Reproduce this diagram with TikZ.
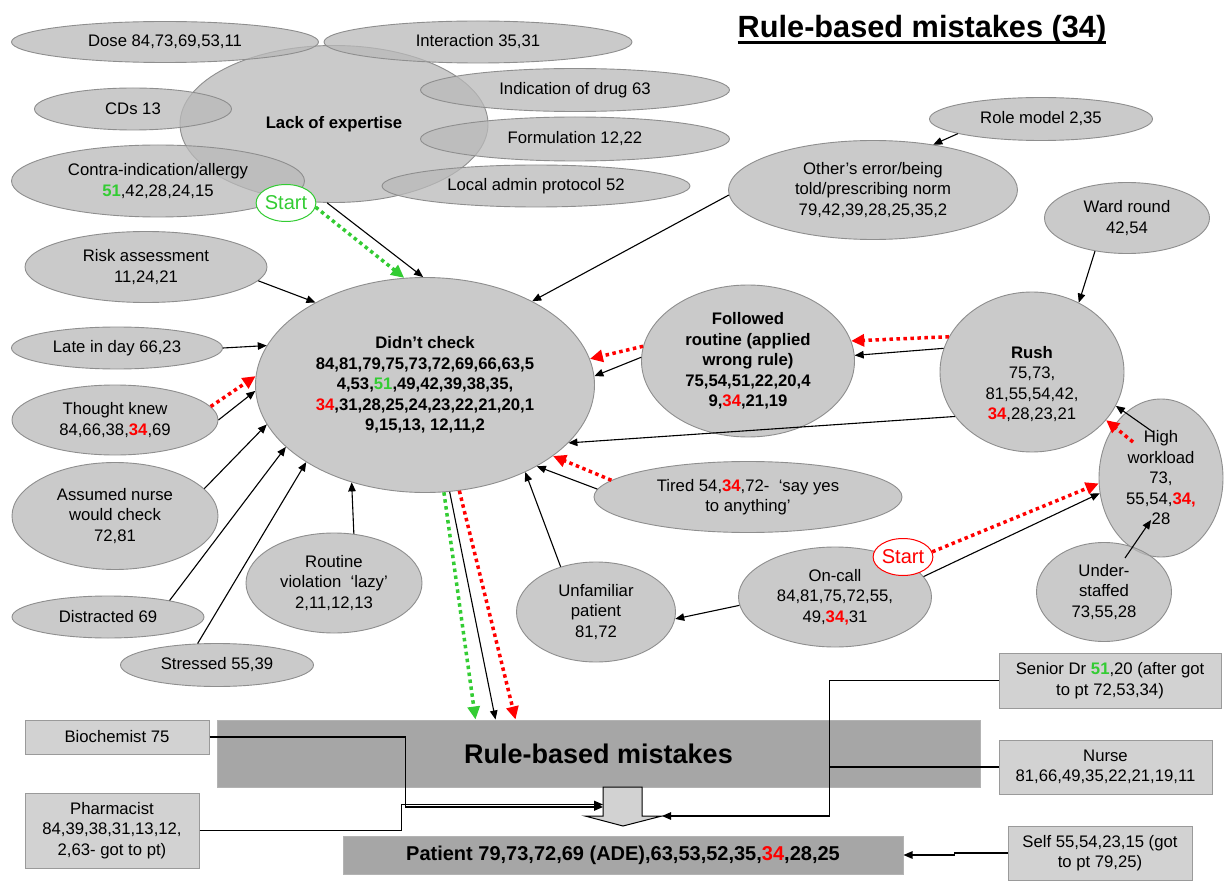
\documentclass[tikz,border=0pt]{standalone}
\usepackage{fontspec}
\setmainfont{Liberation Sans}
\usetikzlibrary{arrows.meta, shapes.geometric, calc}

\definecolor{ellfill}{HTML}{B9B9B9}
\definecolor{ellline}{HTML}{8E8E8E}
\definecolor{boxfill}{HTML}{D2D2D2}
\definecolor{boxline}{HTML}{9A9A9A}
\definecolor{darkfill}{HTML}{A6A6A6}
\definecolor{startgreen}{HTML}{33CC33}

\newcommand{\redno}[1]{\textcolor{red}{\bfseries #1}}
\newcommand{\grnno}[1]{\textcolor{startgreen}{\bfseries #1}}
\newcommand{\bodyfont}{\fontsize{16.7}{20.5}\selectfont}

\begin{document}
\begin{tikzpicture}[x=1pt, y=-1pt,
    cause/.style={ellipse, draw=ellline, line width=0.9pt, fill=ellfill, fill opacity=0.75, text opacity=1, inner sep=0pt, align=center, font=\bodyfont},
    startbubble/.style={ellipse, draw=#1, fill=white, text=#1, line width=1pt, inner sep=0pt, minimum width=58pt, minimum height=37pt, font=\fontsize{20}{24}\selectfont},
    person/.style={rectangle, draw=boxline, fill=boxfill, line width=1pt, inner sep=0pt, align=center, font=\bodyfont},
    outcome/.style={rectangle, draw=darkfill!85!white, fill=darkfill, line width=1pt, inner sep=0pt},
    arr/.style={-{Triangle[length=9pt,width=7.5pt]}, line width=1.1pt},
    reddot/.style={draw=red, line width=3.5pt, dash pattern=on 3.5pt off 3.5pt, -{Triangle[length=13pt,width=12pt]}},
    greendot/.style={reddot, draw=startgreen}
]
    \fill[white] (0,0) rectangle (1224,896);

    % Title
    \node[anchor=base, inner sep=0pt, font=\bfseries\fontsize{30.7}{36}\selectfont] (title) at (922,38) {Rule-based mistakes (34)};
    \draw[line width=2.6pt] ([yshift=-4.5pt]title.base west) -- ([yshift=-4.5pt]title.base east);

    % Lack of expertise cluster
    \node[cause, minimum width=308pt, minimum height=157pt, font=\bfseries\bodyfont] (lack) at (334,124) {Lack of expertise};
    \node[cause, minimum width=307pt, minimum height=41pt] (dose) at (165,42) {Dose 84,73,69,53,11};
    \node[cause, minimum width=308pt, minimum height=42pt] (inter) at (478,42) {Interaction 35,31};
    \node[cause, minimum width=197pt, minimum height=42pt] (cds) at (133,109) {CDs 13};
    \node[cause, minimum width=309pt, minimum height=43pt] (indic) at (575,90) {Indication of drug 63};
    \node[cause, minimum width=309pt, minimum height=44pt] (form) at (575,139) {Formulation 12,22};
    \node[cause, minimum width=293pt, minimum height=72pt] (contra) at (158,181) {Contra-indication/allergy\\\grnno{51},42,28,24,15};
    \node[cause, minimum width=308pt, minimum height=42pt] (local) at (536,186) {Local admin protocol 52};
    \node[startbubble=startgreen] (startg) at (286,203) {Start};

    % Right hand causes
    \node[cause, minimum width=223pt, minimum height=43pt] (role) at (1041,119) {Role model 2,35};
    \node[cause, minimum width=289pt, minimum height=99pt] (other) at (873,190) {Other’s error/being\\told/prescribing norm\\79,42,39,28,25,35,2};
    \node[cause, minimum width=165pt, minimum height=71pt] (ward) at (1127,218) {Ward round\\42,54};
    \node[cause, minimum width=213pt, minimum height=152pt, font=\bfseries\bodyfont] (follow) at (748,361) {Followed\\routine (applied\\wrong rule)\\75,54,51,22,20,4\\9,\redno{34},21,19};
    \node[cause, minimum width=184pt, minimum height=160pt] (rush) at (1032,372) {\rule{0pt}{36pt}\textbf{Rush}\\75,73,\\81,55,54,42,\\\redno{34},28,23,21};
    \node[cause, minimum width=124pt, minimum height=158pt] (high) at (1161,478) {High\\workload\\73,\\55,54,\redno{34,}\\28};
    \node[cause, minimum width=308pt, minimum height=71pt] (tired) at (748,497) {Tired 54,\redno{34},72-\ \ ‘say yes\\to anything’};
    \node[cause, minimum width=159pt, minimum height=100pt] (unfam) at (596,612) {Unfamiliar\\patient\\81,72};
    \node[cause, minimum width=193pt, minimum height=100pt] (oncall) at (835,597) {On-call\\84,81,75,72,55,\\49,\redno{34,}31};
    \node[cause, minimum width=135pt, minimum height=99pt] (under) at (1104,592) {Under-\\staffed\\73,55,28};
    \node[startbubble=red] (startr) at (903,557) {Start};

    % Left hand causes
    \node[cause, minimum width=242pt, minimum height=71pt] (risk) at (146,267) {Risk assessment\\11,24,21};
    \node[cause, minimum width=211pt, minimum height=42pt] (late) at (117,348) {Late in day 66,23};
    \node[cause, minimum width=206pt, minimum height=70pt] (thought) at (115,420) {Thought knew\\84,66,38,\redno{34},69};
    \node[cause, minimum width=206pt, minimum height=107pt] (assumed) at (115,516) {Assumed nurse\\would check\\72,81};
    \node[cause, minimum width=192pt, minimum height=42pt] (distr) at (108,617) {Distracted 69};
    \node[cause, minimum width=193pt, minimum height=43pt] (stress) at (217,665) {Stressed 55,39};
    \node[cause, minimum width=176pt, minimum height=100pt] (routine) at (334,583) {Routine\\violation\ \ ‘lazy’\\2,11,12,13};

    % Centre
    \node[cause, minimum width=339pt, minimum height=215pt, font=\bfseries\bodyfont] (dc) at (425,385) {Didn’t check\\84,81,79,75,73,72,69,66,63,5\\4,53,\grnno{51},49,42,39,38,35,\\\redno{34},31,28,25,24,23,22,21,20,1\\9,15,13, 12,11,2};

    % Lower part
    \node[outcome, minimum width=763pt, minimum height=67pt, font=\bfseries\fontsize{27}{32}\selectfont] (rbm) at (598.5,753.5) {Rule-based mistakes};
    \node[outcome, minimum width=560pt, minimum height=38pt, font=\bfseries\fontsize{20}{24}\selectfont] (patient) at (623,855) {Patient 79,73,72,69 (ADE),63,53,52,35,\redno{34},28,25};
    \node[person, minimum width=184pt, minimum height=34pt] (bio) at (117,737) {Biochemist 75};
    \node[person, minimum width=174pt, minimum height=75pt] (pharm) at (112,830.5) {Pharmacist\\84,39,38,31,13,12,\\2,63- got to pt)};
    \node[person, minimum width=222pt, minimum height=55pt] (senior) at (1110,680.5) {Senior Dr \grnno{51},20 (after got\\to pt 72,53,34)};
    \node[person, minimum width=213pt, minimum height=54pt] (nurse) at (1105.5,767) {Nurse\\81,66,49,35,22,21,19,11};
    \node[person, minimum width=184pt, minimum height=54pt] (self) at (1100,853) {Self 55,54,23,15 (got\\to pt 79,25)};

    % Block arrow between the two bars
    \draw[fill=boxfill, line width=1pt] (603,787) -- (642,787) -- (642,816) -- (662,816) -- (623,826) -- (585,816) -- (603,816) -- cycle;
    \coordinate (flowL) at (603,807);
    \coordinate (flowR) at (662,816);

    % Lines into Didn't check
    \draw[greendot] (startg.-8) -- (dc.101);
    \draw[arr] (lack.265) -- (dc.91);
    \draw[arr] (other.182) -- (dc.38);
    \draw[arr] (risk.353) -- (dc.143);
    \draw[arr] (late.east) -- (dc.166);
    \draw[reddot] (thought.8) -- (dc.177);
    \draw[arr] (thought.east) -- (dc.182);
    \draw[arr] (assumed.17) -- (dc.194);
    \draw[arr] (distr.15) -- (dc.204);
    \draw[arr] (stress.132) -- (dc.213);
    \draw[arr] (routine.68) -- (dc.233);
    \draw[arr] (unfam.128) -- (dc.319);
    \draw[reddot] (tired.173) -- (dc.331);
    \draw[arr] (tired.177) -- (dc.324);
    \draw[arr] (rush.210) -- (dc.338);
    \draw[arr] (follow.178) -- (dc.3);
    \draw[reddot] (follow.172) -- (dc.9);

    % Lines on the right
    \draw[arr] (role.190) -- (other.37);
    \draw[arr] (rush.165) -- (follow.3);
    \draw[reddot] (rush.157) -- (follow.11);
    \draw[arr] (ward.226) -- (rush.56);
    \draw[arr] ($(high)+(-8,-46)$) -- (rush.338);
    \draw[reddot] ($(high)+(-28,-36)$) -- (rush.327);
    \draw[arr] (oncall.13) -- (high.194);
    \draw[reddot] (startr.10) -- (high.185);
    \draw[arr] ($(under)+(21,-34)$) -- ($(high)+(-10,42)$);
    \draw[arr] (oncall.185) -- (unfam.355);

    % Down to rule-based mistakes
    \draw[greendot] (dc.280) -- ([xshift=259pt]rbm.north west);
    \draw[arr] (dc.283) -- ([xshift=279pt]rbm.north west);
    \draw[reddot] (dc.288) -- ([xshift=299pt]rbm.north west);

    % Who caught it
    \draw[arr] (bio.east) -- ++(196,0) |- (flowL);
    \draw[arr] (pharm.east) -- ++(202,0) |- ([yshift=2.5pt]flowL);
    \draw[arr] (senior.west) -- ++(-169,0) |- (flowR);
    \draw[line width=1.1pt] (nurse.west) -- ++(-169,0);
    \draw[arr] (self.west) -- ++(-53,0) |- (patient.east);
\end{tikzpicture}
\end{document}
